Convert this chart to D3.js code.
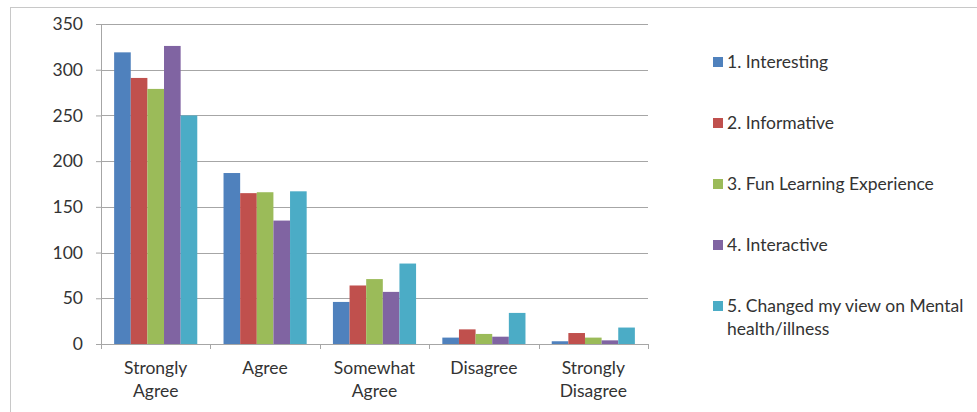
<!DOCTYPE html>
<html>
<head>
<meta charset="utf-8">
<script src="https://cdn.jsdelivr.net/npm/d3@7/dist/d3.min.js"></script>
<style>
  body { margin: 0; background: #fff; }
  svg { display: block; font-family: Lato, "Open Sans", sans-serif; }
</style>
</head>
<body>
<svg width="977" height="412"></svg>
<script>
// chart data
var categories = ["Strongly Agree", "Agree", "Somewhat Agree", "Disagree", "Strongly Disagree"];
var seriesNames = ["1. Interesting", "2. Informative", "3. Fun Learning Experience", "4. Interactive", "5. Changed my view on Mental health/illness"];
var interesting = [319, 187, 46, 7, 3];
var informative = [291, 165, 64, 16, 12];
var funLearning = [279, 166, 71, 11, 7];
var interactive = [326, 135, 57, 8, 4];
var changedView = [250, 167, 88, 34, 18];
var yTicks = [0, 50, 100, 150, 200, 250, 300, 350];

var colors = ["#4f81bd", "#c0504d", "#9bbb59", "#8064a2", "#4bacc6"];
var seriesValues = [interesting, informative, funLearning, interactive, changedView];
var fontSize = "17.5px";

var svg = d3.select("svg");
var margin = {top: 24, left: 101, right: 329, bottom: 68};
var width = 977 - margin.left - margin.right,
    height = 412 - margin.top - margin.bottom;

// outer frame
svg.append("rect")
    .attr("x", 10.5).attr("y", 7.5)
    .attr("width", 1000).attr("height", 500)
    .attr("fill", "none").attr("stroke", "#c8c8c8");

var g = svg.append("g")
    .attr("transform", "translate(" + margin.left + "," + margin.top + ")");

var x0 = d3.scaleBand().domain(categories).range([0, width]).paddingInner(0.24).paddingOuter(0.12);
var x1 = d3.scaleBand().domain(d3.range(seriesNames.length)).range([0, x0.bandwidth()]);
var y = d3.scaleLinear().domain([0, 350]).range([height, 0]);

// gridlines
g.append("g").selectAll("line")
    .data(yTicks.slice(1))
    .enter().append("line")
    .attr("x1", 0).attr("x2", width)
    .attr("y1", function(d) { return Math.round(y(d)) + 0.5; })
    .attr("y2", function(d) { return Math.round(y(d)) + 0.5; })
    .attr("stroke", "#a6a6a6");

// bars
var data = [];
categories.forEach(function(c, i) {
    seriesValues.forEach(function(vals, s) {
        data.push({cat: c, s: s, v: vals[i]});
    });
});
g.append("g").selectAll("rect")
    .data(data)
    .enter().append("rect")
    .attr("x", function(d) { return x0(d.cat) + x1(d.s); })
    .attr("y", function(d) { return y(d.v); })
    .attr("width", x1.bandwidth())
    .attr("height", function(d) { return height - y(d.v); })
    .attr("fill", function(d) { return colors[d.s]; });

// y axis
var yAxis = g.append("g")
    .call(d3.axisLeft(y).tickValues(yTicks).tickSize(5).tickPadding(13));
yAxis.select(".domain").attr("stroke", "#a6a6a6");
yAxis.selectAll(".tick line").attr("stroke", "#a6a6a6");
yAxis.selectAll("text").style("font-size", fontSize).attr("fill", "#333")
    .style("font-family", "Lato, 'Open Sans', sans-serif");

// x axis
var xAxisG = g.append("g").attr("transform", "translate(0," + height + ")");
xAxisG.append("line")
    .attr("x1", 0).attr("x2", width).attr("y1", 0.5).attr("y2", 0.5)
    .attr("stroke", "#a6a6a6");
var xTickPos = categories.map(function(c) { return x0(c) - x0.step() * x0.paddingInner() / 2; });
xTickPos.push(width);
xAxisG.selectAll(".xt").data(xTickPos).enter().append("line")
    .attr("x1", function(d) { return Math.round(d) + 0.5; })
    .attr("x2", function(d) { return Math.round(d) + 0.5; })
    .attr("y1", 0).attr("y2", 5)
    .attr("stroke", "#a6a6a6");

xAxisG.selectAll(".xl").data(categories).enter().append("text")
    .attr("text-anchor", "middle")
    .attr("x", function(d) { return x0(d) + x0.bandwidth() / 2; })
    .attr("y", 30)
    .style("font-size", fontSize).attr("fill", "#333")
    .each(function(d) {
        var words = d.split(" ");
        var t = d3.select(this);
        words.forEach(function(w, i) {
            t.append("tspan")
                .attr("x", x0(d) + x0.bandwidth() / 2)
                .attr("dy", i == 0 ? 0 : 23)
                .text(w);
        });
    });

// legend
var legend = svg.append("g").attr("transform", "translate(713,0)");
var legendRows = [62, 123, 184, 245, 306];
seriesNames.forEach(function(name, i) {
    var row = legend.append("g").attr("transform", "translate(0," + legendRows[i] + ")");
    row.append("rect").attr("x", 0).attr("y", -5).attr("width", 10).attr("height", 10)
        .attr("fill", colors[i]);
    var lines = i == 4 ? ["5. Changed my view on Mental", "health/illness"] : [name];
    lines.forEach(function(l, j) {
        row.append("text")
            .attr("x", 14).attr("y", 6 + j * 23)
            .style("font-size", fontSize).attr("fill", "#333")
            .text(l);
    });
});
</script>
</body>
</html>
